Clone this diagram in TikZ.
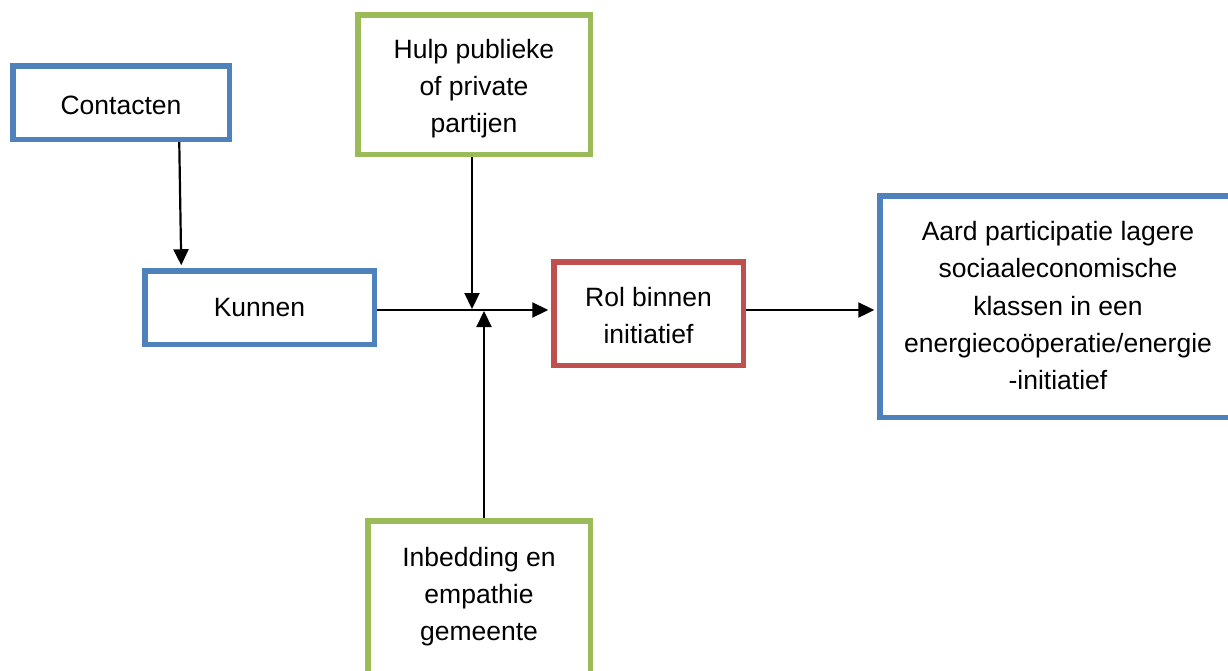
\documentclass[tikz,border=0pt]{standalone}
\usepackage{fontspec}
\setmainfont{Liberation Sans}
\usetikzlibrary{arrows.meta,calc}
\definecolor{oblue}{HTML}{4F81BD}
\definecolor{ogreen}{HTML}{9BBB59}
\definecolor{ored}{HTML}{C0504D}
\begin{document}
\begin{tikzpicture}[x=1pt,y=-1pt,
  box/.style={draw,line width=5.5pt,inner sep=0pt,fill=white},
  txt/.style={font=\fontsize{26.5}{37.3}\selectfont,align=center,inner sep=0pt},
  arr/.style={line width=2.2pt,-{Triangle[length=16pt,width=15pt]}}]
\useasboundingbox (0,0) rectangle (1228,670);
\begin{scope}
\clip (0,0) rectangle (1228,670);
\fill[white] (0,0) rectangle (1228,670);
% boxes
\node[box,draw=oblue,minimum width=216.5pt,minimum height=73.5pt] (contacten) at (121,102.5) {};
\node[box,draw=oblue,minimum width=229.5pt,minimum height=73.5pt] (kunnen) at (259.5,307.5) {};
\node[box,draw=ogreen,minimum width=232.5pt,minimum height=139.5pt] (hulp) at (474,84.5) {};
\node[box,draw=ored,minimum width=189.5pt,minimum height=103.5pt] (rol) at (648.5,313.5) {};
\node[box,draw=oblue,minimum width=355.25pt,minimum height=221.5pt] (aard) at (1057.4,306.5) {};
\node[box,draw=ogreen,minimum width=222.5pt,minimum height=159.25pt] (inbed) at (479,600.4) {};
% texts
\node[txt] (tcontacten) at (121,105.4) {Contacten};
\node[txt] (tkunnen) at (259.5,307.5) {Kunnen};
\node[txt] (thulp) at (474,88.6) {Hulp publieke\\of private\\partijen};
\node[txt] (trol) at (648.5,315.4) {Rol binnen\\initiatief};
\node[txt] (taard) at (1058,305.7) {Aard participatie lagere\\sociaaleconomische\\klassen in een\\energieco\"operatie/energie\\-initiatief};
\node[txt] (tinbed) at (479,596.5) {Inbedding en\\empathie\\gemeente};
% connectors
\coordinate (m) at (0,310);
\coordinate (jt) at (472,309);
\coordinate (jb) at (484,311);
\draw[arr,shorten >=2.75pt] (kunnen.east |- m) -- (rol.west |- m);
\draw[arr,shorten >=2.75pt] (rol.east |- m) -- (aard.west |- m);
\draw[arr] (hulp.south -| jt) -- (jt);
\draw[arr] (inbed.north -| jb) -- (jb);
\draw[arr] ($(contacten.south west)+(169.25,0)$) -- ($(kunnen.north west)+(39.25,-2.75)$);
\end{scope}
\end{tikzpicture}
\end{document}
